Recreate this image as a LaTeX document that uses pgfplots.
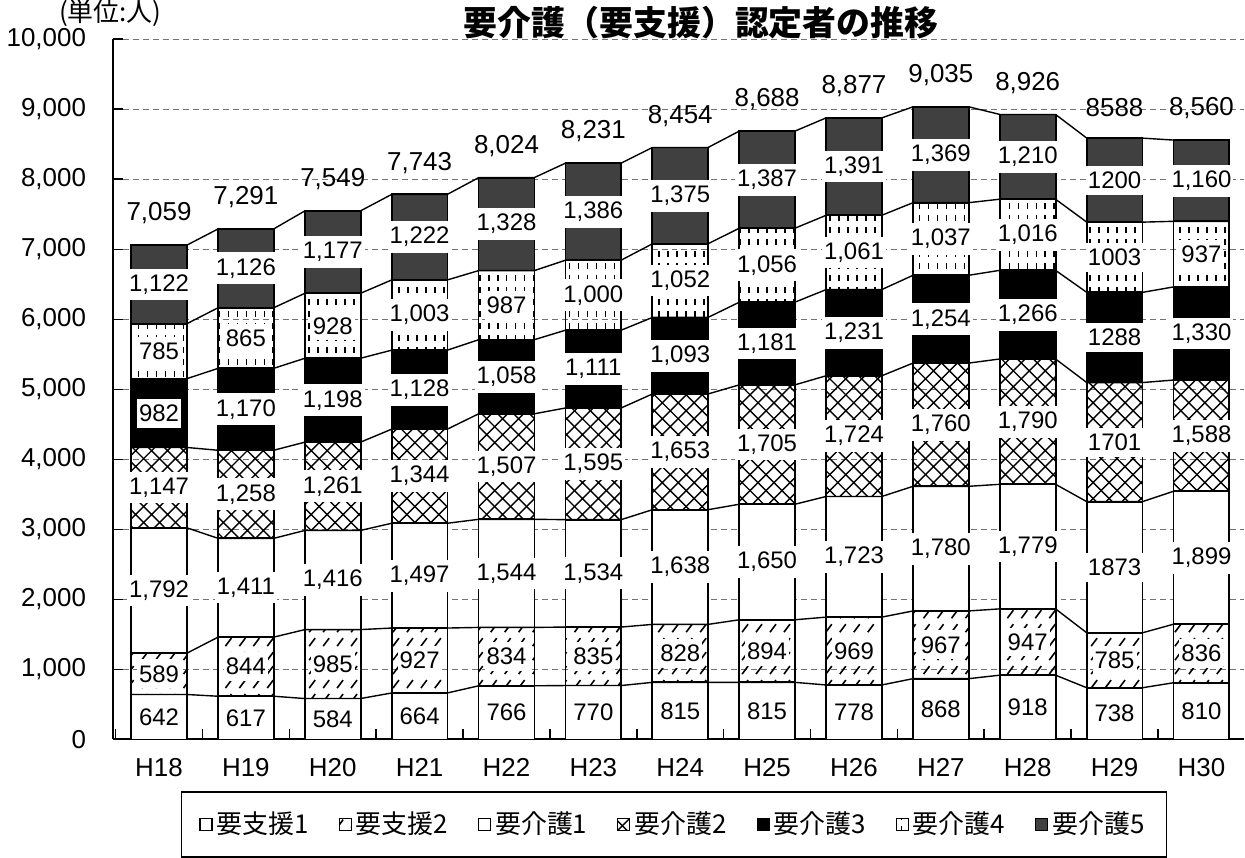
\documentclass[border=0pt]{standalone}
\usepackage{fontspec}
\setmainfont{Liberation Sans}
\newfontfamily\jp{Noto Sans CJK JP}
\usepackage{pgfplots}
\pgfplotsset{compat=1.18}
\usetikzlibrary{patterns}

% bar fillings
\pgfdeclarepatternformonly{slashes}{\pgfqpoint{-1pt}{-1pt}}{\pgfqpoint{8pt}{8pt}}{\pgfqpoint{7pt}{7pt}}{%
  \pgfsetlinewidth{0.8pt}%
  \pgfpathmoveto{\pgfqpoint{1pt}{1pt}}\pgfpathlineto{\pgfqpoint{4pt}{5pt}}%
  \pgfusepath{stroke}}
\pgfdeclarepatternformonly{diagcross}{\pgfqpoint{-1pt}{-1pt}}{\pgfqpoint{9pt}{9pt}}{\pgfqpoint{8pt}{8pt}}{%
  \pgfsetlinewidth{0.7pt}%
  \pgfpathmoveto{\pgfqpoint{0pt}{0pt}}\pgfpathlineto{\pgfqpoint{8pt}{8pt}}%
  \pgfpathmoveto{\pgfqpoint{0pt}{8pt}}\pgfpathlineto{\pgfqpoint{8pt}{0pt}}%
  \pgfusepath{stroke}}
\pgfdeclarepatternformonly{vdash}{\pgfqpoint{-1pt}{-1pt}}{\pgfqpoint{5pt}{7pt}}{\pgfqpoint{4.5pt}{6pt}}{%
  \pgfsetlinewidth{0.8pt}%
  \pgfpathmoveto{\pgfqpoint{2pt}{1pt}}\pgfpathlineto{\pgfqpoint{2pt}{4pt}}%
  \pgfusepath{stroke}}

\begin{document}
\begin{tikzpicture}
\pgfplotsset{base/.style={scale only axis, width=567pt, height=351pt,
  xmin=-0.53, xmax=12.49, ymin=0, ymax=10000}}

\begin{axis}[base,
  ybar stacked, bar width=0.643,
  axis x line*=bottom, axis y line*=left,
  axis line style={line width=1pt},
  xtick={-0.5,0.5,...,11.5}, xticklabels={},
  extra x ticks={0,...,12},
  extra x tick labels={H18,H19,H20,H21,H22,H23,H24,H25,H26,H27,H28,H29,H30},
  extra x tick style={major tick length=0pt},
  xticklabel style={font=\fontsize{13}{15}\selectfont, yshift=-6pt},
  ytick={0,1000,...,10000},
  scaled y ticks=false,
  yticklabel style={font=\fontsize{13}{15}\selectfont, xshift=-10pt},
  /pgf/number format/1000 sep={,},
  /pgf/number format/assume math mode=true,
  major tick length=5pt,
  tick style={black, line width=0.8pt},
  ymajorgrids, grid style={densely dashed, black!55, line width=0.5pt},
  legend columns=7,
  legend style={at={(0.496,0)}, anchor=north, yshift=-26pt,
    draw=black, line width=0.8pt, inner xsep=9pt, inner ysep=8pt,
    font=\jp\fontsize{13}{15}\selectfont,
    /tikz/every even column/.append style={column sep=13pt}},
  legend image code/.code={\draw[#1, line width=0.6pt] (0pt,-3pt) rectangle (6pt,3pt);},
  every axis plot/.append style={draw=black, line width=0.9pt},
]
\addplot[fill=white] coordinates {
  (0,642) (1,617) (2,584) (3,664) (4,766) (5,770) (6,815)
  (7,815) (8,778) (9,868) (10,918) (11,738) (12,810)};
\addlegendentry{要支援1}
\addplot[pattern=slashes] coordinates {
  (0,589) (1,844) (2,985) (3,927) (4,834) (5,835) (6,828)
  (7,894) (8,969) (9,967) (10,947) (11,785) (12,836)};
\addlegendentry{要支援2}
\addplot[fill=white] coordinates {
  (0,1792) (1,1411) (2,1416) (3,1497) (4,1544) (5,1534) (6,1638)
  (7,1650) (8,1723) (9,1780) (10,1779) (11,1873) (12,1899)};
\addlegendentry{要介護1}
\addplot[pattern=diagcross] coordinates {
  (0,1147) (1,1258) (2,1261) (3,1344) (4,1507) (5,1595) (6,1653)
  (7,1705) (8,1724) (9,1760) (10,1790) (11,1701) (12,1588)};
\addlegendentry{要介護2}
\addplot[fill=black] coordinates {
  (0,982) (1,1170) (2,1198) (3,1128) (4,1058) (5,1111) (6,1093)
  (7,1181) (8,1231) (9,1254) (10,1266) (11,1288) (12,1330)};
\addlegendentry{要介護3}
\addplot[pattern=vdash] coordinates {
  (0,785) (1,865) (2,928) (3,1003) (4,987) (5,1000) (6,1052)
  (7,1056) (8,1061) (9,1037) (10,1016) (11,1003) (12,937)};
\addlegendentry{要介護4}
\addplot[fill=black!75] coordinates {
  (0,1122) (1,1126) (2,1177) (3,1222) (4,1328) (5,1386) (6,1375)
  (7,1387) (8,1391) (9,1369) (10,1210) (11,1200) (12,1160)};
\addlegendentry{要介護5}
\end{axis}

% series lines and data labels
\begin{axis}[base, hide axis, clip=false,
  sl/.style={black, line width=0.7pt, mark=none},
  lbl/.style={draw=none, mark=none, nodes near coords, point meta=explicit symbolic,
    every node near coord/.style={anchor=center, fill=white,
      inner xsep=1pt, inner ysep=3pt, font=\fontsize{12}{14}\selectfont}}]
\addplot[sl] coordinates {(-0.32,642)(0.32,642)(0.68,617)(1.32,617)(1.68,584)(2.32,584)(2.68,664)(3.32,664)(3.68,766)(4.32,766)(4.68,770)(5.32,770)(5.68,815)(6.32,815)(6.68,815)(7.32,815)(7.68,778)(8.32,778)(8.68,868)(9.32,868)(9.68,918)(10.32,918)(10.68,738)(11.32,738)(11.68,810)(12.32,810)};
\addplot[sl] coordinates {(-0.32,1231)(0.32,1231)(0.68,1461)(1.32,1461)(1.68,1569)(2.32,1569)(2.68,1591)(3.32,1591)(3.68,1600)(4.32,1600)(4.68,1605)(5.32,1605)(5.68,1643)(6.32,1643)(6.68,1709)(7.32,1709)(7.68,1747)(8.32,1747)(8.68,1835)(9.32,1835)(9.68,1865)(10.32,1865)(10.68,1523)(11.32,1523)(11.68,1646)(12.32,1646)};
\addplot[sl] coordinates {(-0.32,3023)(0.32,3023)(0.68,2872)(1.32,2872)(1.68,2985)(2.32,2985)(2.68,3088)(3.32,3088)(3.68,3144)(4.32,3144)(4.68,3139)(5.32,3139)(5.68,3281)(6.32,3281)(6.68,3359)(7.32,3359)(7.68,3470)(8.32,3470)(8.68,3615)(9.32,3615)(9.68,3644)(10.32,3644)(10.68,3396)(11.32,3396)(11.68,3545)(12.32,3545)};
\addplot[sl] coordinates {(-0.32,4170)(0.32,4170)(0.68,4130)(1.32,4130)(1.68,4246)(2.32,4246)(2.68,4432)(3.32,4432)(3.68,4651)(4.32,4651)(4.68,4734)(5.32,4734)(5.68,4934)(6.32,4934)(6.68,5064)(7.32,5064)(7.68,5194)(8.32,5194)(8.68,5375)(9.32,5375)(9.68,5434)(10.32,5434)(10.68,5097)(11.32,5097)(11.68,5133)(12.32,5133)};
\addplot[sl] coordinates {(-0.32,5152)(0.32,5152)(0.68,5300)(1.32,5300)(1.68,5444)(2.32,5444)(2.68,5560)(3.32,5560)(3.68,5709)(4.32,5709)(4.68,5845)(5.32,5845)(5.68,6027)(6.32,6027)(6.68,6245)(7.32,6245)(7.68,6425)(8.32,6425)(8.68,6629)(9.32,6629)(9.68,6700)(10.32,6700)(10.68,6385)(11.32,6385)(11.68,6463)(12.32,6463)};
\addplot[sl] coordinates {(-0.32,5937)(0.32,5937)(0.68,6165)(1.32,6165)(1.68,6372)(2.32,6372)(2.68,6563)(3.32,6563)(3.68,6696)(4.32,6696)(4.68,6845)(5.32,6845)(5.68,7079)(6.32,7079)(6.68,7301)(7.32,7301)(7.68,7486)(8.32,7486)(8.68,7666)(9.32,7666)(9.68,7716)(10.32,7716)(10.68,7388)(11.32,7388)(11.68,7400)(12.32,7400)};
\addplot[sl] coordinates {(-0.32,7059)(0.32,7059)(0.68,7291)(1.32,7291)(1.68,7549)(2.32,7549)(2.68,7785)(3.32,7785)(3.68,8024)(4.32,8024)(4.68,8231)(5.32,8231)(5.68,8454)(6.32,8454)(6.68,8688)(7.32,8688)(7.68,8877)(8.32,8877)(8.68,9035)(9.32,9035)(9.68,8926)(10.32,8926)(10.68,8588)(11.32,8588)(11.68,8560)(12.32,8560)};

\addplot[lbl] coordinates {(0,321)[642] (1,308.5)[617] (2,292)[584] (3,332)[664] (4,383)[766] (5,385)[770] (6,407.5)[815] (7,407.5)[815] (8,389)[778] (9,434)[868] (10,459)[918] (11,369)[738] (12,405)[810]};
\addplot[lbl] coordinates {(0,936.5)[589] (1,1039)[844] (2,1076.5)[985] (3,1127.5)[927] (4,1183)[834] (5,1187.5)[835] (6,1229)[828] (7,1262)[894] (8,1262.5)[969] (9,1351.5)[967] (10,1391.5)[947] (11,1130.5)[785] (12,1228)[836]};
\addplot[lbl] coordinates {(0,2127)[1,792] (1,2166.5)[1,411] (2,2277)[1,416] (3,2339.5)[1,497] (4,2372)[1,544] (5,2372)[1,534] (6,2462)[1,638] (7,2534)[1,650] (8,2608.5)[1,723] (9,2725)[1,780] (10,2754.5)[1,779] (11,2459.5)[1873] (12,2595.5)[1,899]};
\addplot[lbl] coordinates {(0,3596.5)[1,147] (1,3501)[1,258] (2,3615.5)[1,261] (3,3760)[1,344] (4,3897.5)[1,507] (5,3936.5)[1,595] (6,4107.5)[1,653] (7,4211.5)[1,705] (8,4332)[1,724] (9,4495)[1,760] (10,4539)[1,790] (11,4246.5)[1701] (12,4339)[1,588]};
\addplot[lbl] coordinates {(0,4661)[982] (1,4715)[1,170] (2,4845)[1,198] (3,4996)[1,128] (4,5180)[1,058] (5,5289.5)[1,111] (6,5480.5)[1,093] (7,5654.5)[1,181] (8,5809.5)[1,231] (9,6002)[1,254] (10,6067)[1,266] (11,5741)[1288] (12,5798)[1,330]};
\addplot[lbl] coordinates {(0,5544.5)[785] (1,5732.5)[865] (2,5908)[928] (3,6061.5)[1,003] (4,6202.5)[987] (5,6345)[1,000] (6,6553)[1,052] (7,6773)[1,056] (8,6955.5)[1,061] (9,7147.5)[1,037] (10,7208)[1,016] (11,6886.5)[1003] (12,6931.5)[937]};
\addplot[lbl] coordinates {(0,6498)[1,122] (1,6728)[1,126] (2,6960.5)[1,177] (3,7174)[1,222] (4,7360)[1,328] (5,7538)[1,386] (6,7766.5)[1,375] (7,7994.5)[1,387] (8,8181.5)[1,391] (9,8350.5)[1,369] (10,8321)[1,210] (11,7988)[1200] (12,7980)[1,160]};
\addplot[draw=none, mark=none, nodes near coords, point meta=explicit symbolic,
  every node near coord/.style={anchor=south, yshift=7pt, font=\fontsize{13}{15}\selectfont}]
  coordinates {(0,7059)[7,059] (1,7291)[7,291] (2,7549)[7,549] (3,7785)[7,743] (4,8024)[8,024] (5,8231)[8,231] (6,8454)[8,454] (7,8688)[8,688] (8,8877)[8,877] (9,9035)[9,035] (10,8926)[8,926] (11,8588)[8588] (12,8560)[8,560]};

\node[anchor=south, inner sep=0pt, font=\jp\bfseries\fontsize{17}{20}\selectfont]
  at (rel axis cs:0.52,1) {要介護（要支援）認定者の推移};
\node[anchor=south west, inner sep=0pt, font=\jp\fontsize{13}{15}\selectfont]
  at (rel axis cs:-0.048,1) [yshift=6pt] {(単位:人)};
\end{axis}
\end{tikzpicture}
\end{document}
